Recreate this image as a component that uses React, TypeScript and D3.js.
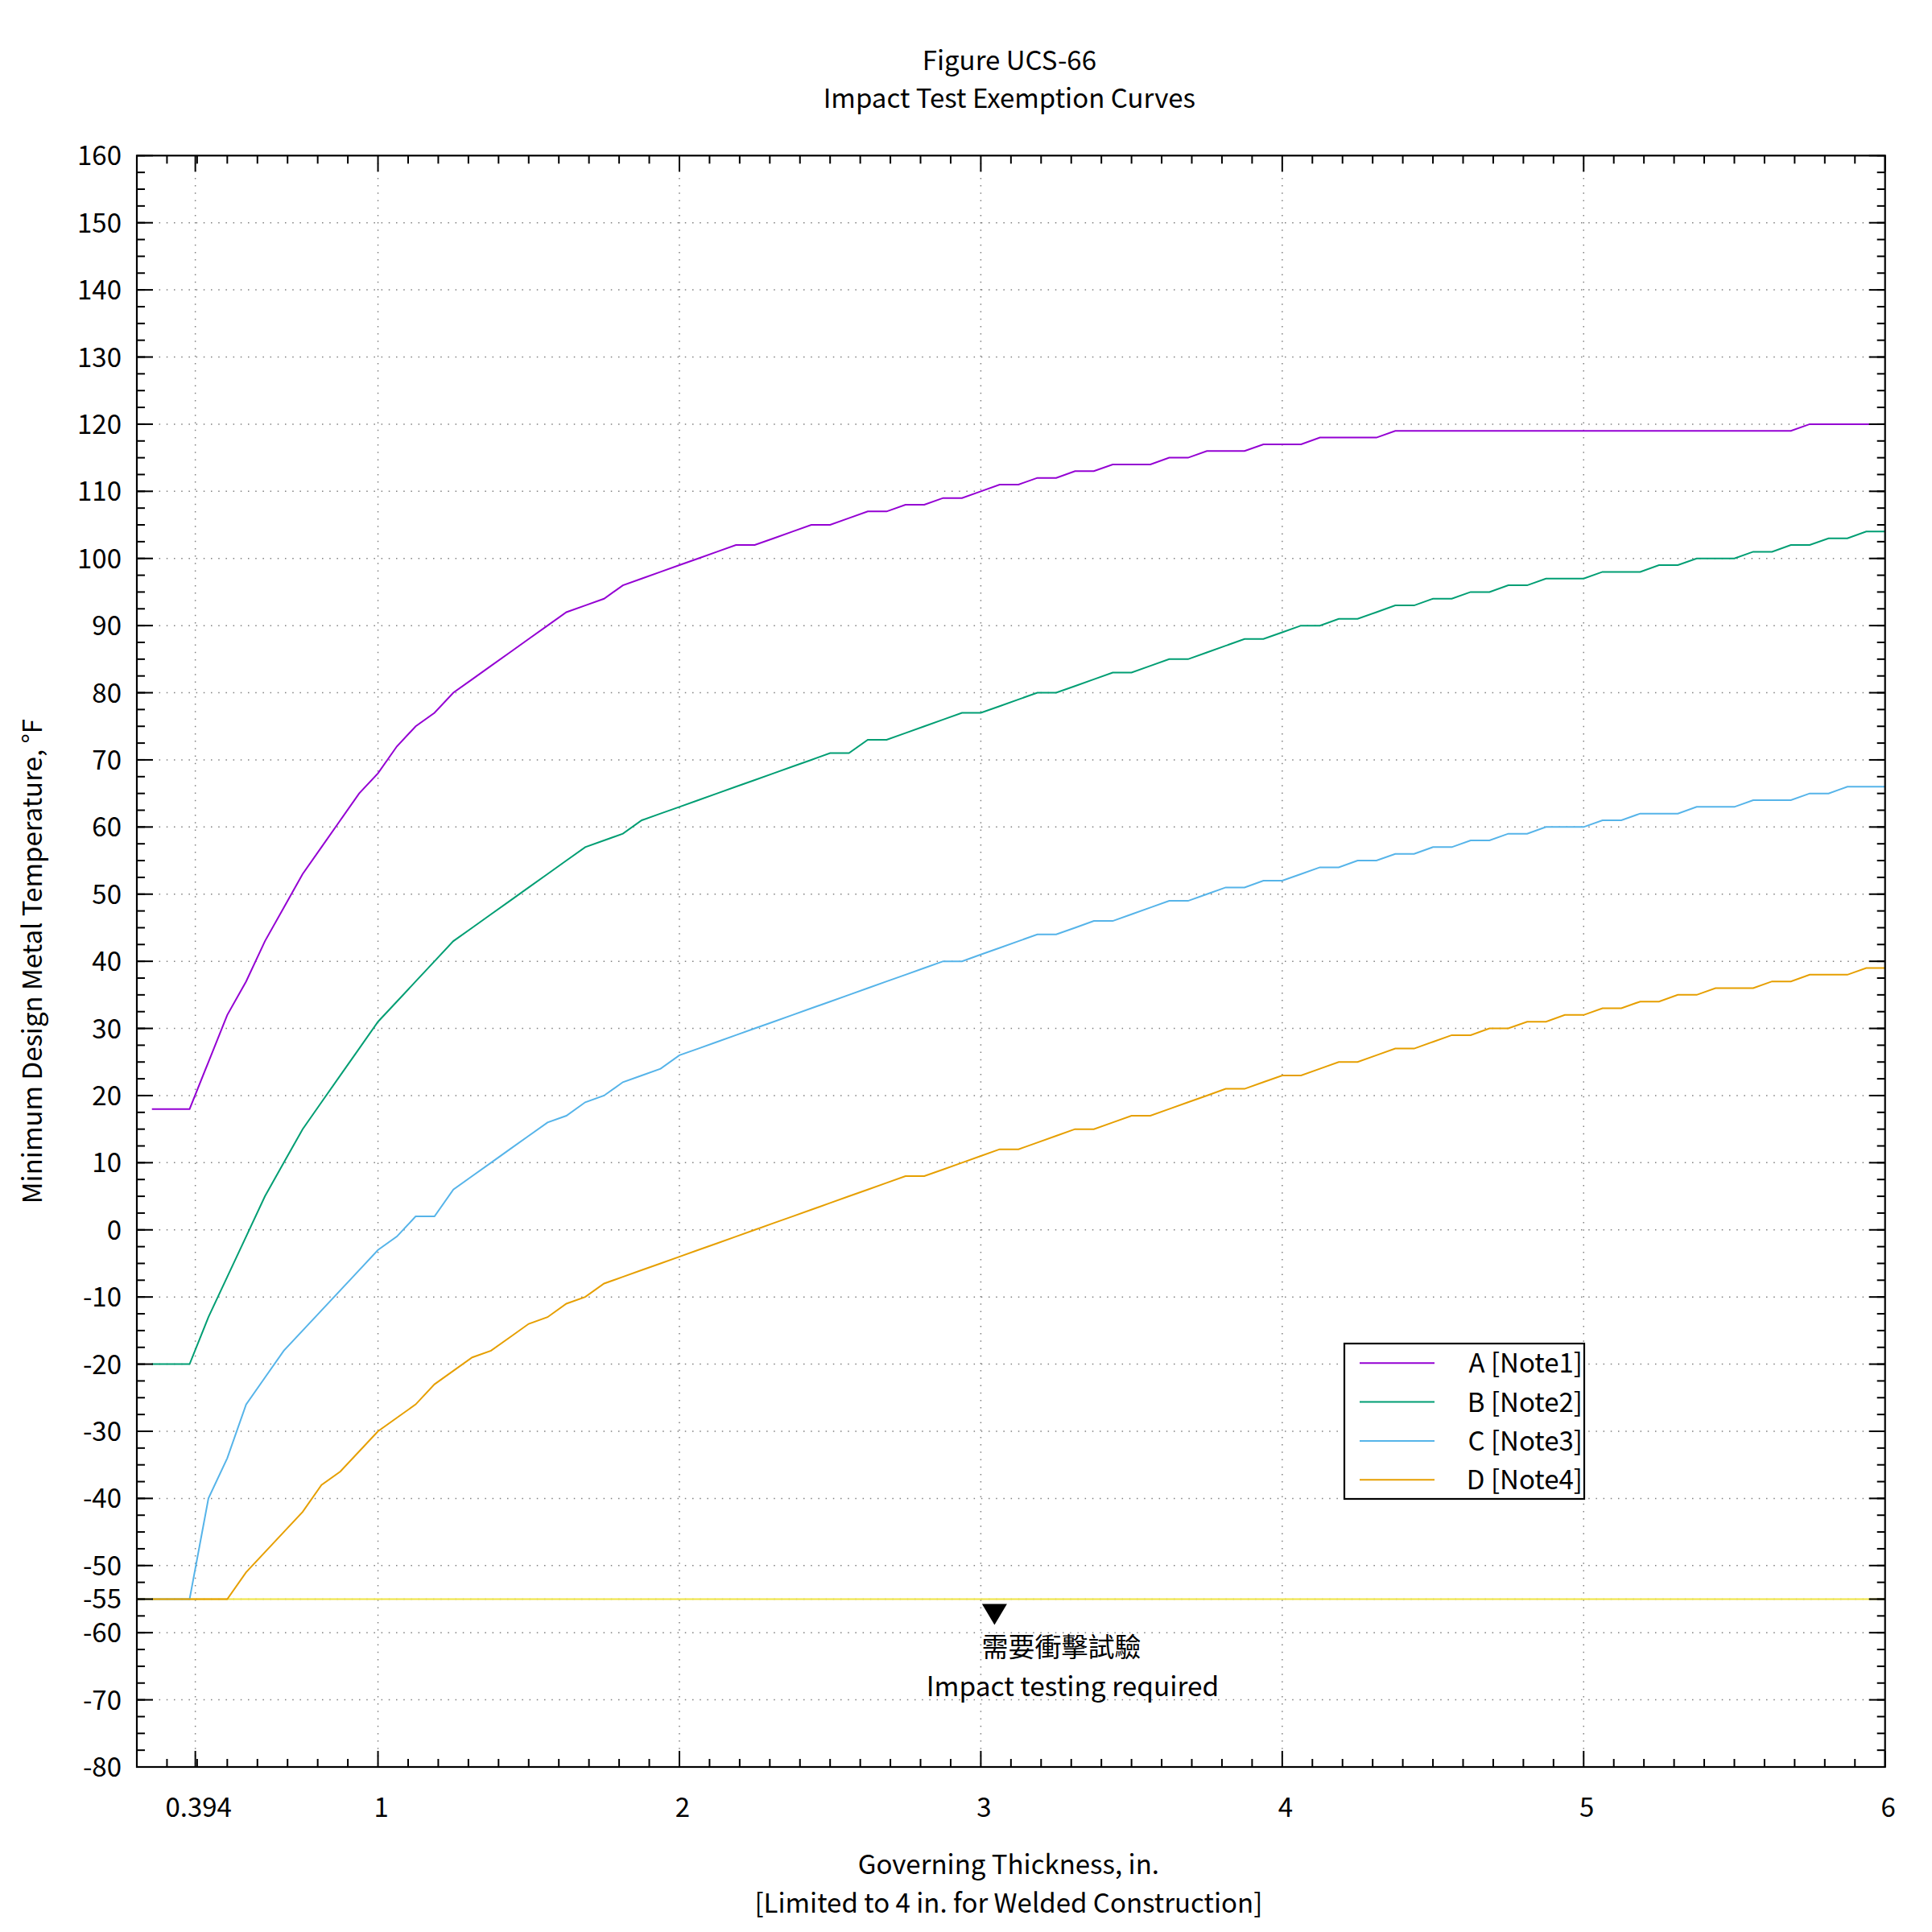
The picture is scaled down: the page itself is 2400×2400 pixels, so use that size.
import React from 'react';
import * as d3 from 'd3';

// Governing thickness, in.
const thickness = [
  0.25, 0.3125, 0.375, 0.4375, 0.5, 0.5625, 0.625, 0.6875, 0.75, 0.8125, 0.875, 0.9375,
  1, 1.0625, 1.125, 1.1875, 1.25, 1.3125, 1.375, 1.4375, 1.5, 1.5625, 1.625, 1.6875, 1.75, 1.8125, 1.875, 1.9375,
  2, 2.0625, 2.125, 2.1875, 2.25, 2.3125, 2.375, 2.4375, 2.5, 2.5625, 2.625, 2.6875, 2.75, 2.8125, 2.875, 2.9375,
  3, 3.0625, 3.125, 3.1875, 3.25, 3.3125, 3.375, 3.4375, 3.5, 3.5625, 3.625, 3.6875, 3.75, 3.8125, 3.875, 3.9375,
  4, 4.0625, 4.125, 4.1875, 4.25, 4.3125, 4.375, 4.4375, 4.5, 4.5625, 4.625, 4.6875, 4.75, 4.8125, 4.875, 4.9375,
  5, 5.0625, 5.125, 5.1875, 5.25, 5.3125, 5.375, 5.4375, 5.5, 5.5625, 5.625, 5.6875, 5.75, 5.8125, 5.875, 5.9375,
  6,
];

const curveA = [
  18, 18, 18, 25, 32, 37, 43, 48, 53, 57, 61, 65,
  68, 72, 75, 77, 80, 82, 84, 86, 88, 90, 92, 93, 94, 96, 97, 98,
  99, 100, 101, 102, 102, 103, 104, 105, 105, 106, 107, 107, 108, 108, 109, 109,
  110, 111, 111, 112, 112, 113, 113, 114, 114, 114, 115, 115, 116, 116, 116, 117,
  117, 117, 118, 118, 118, 118, 119, 119, 119, 119, 119, 119, 119, 119, 119, 119,
  119, 119, 119, 119, 119, 119, 119, 119, 119, 119, 119, 119, 120, 120, 120, 120,
  120,
];

const curveB = [
  -20, -20, -20, -13, -7, -1, 5, 10, 15, 19, 23, 27,
  31, 34, 37, 40, 43, 45, 47, 49, 51, 53, 55, 57, 58, 59, 61, 62,
  63, 64, 65, 66, 67, 68, 69, 70, 71, 71, 73, 73, 74, 75, 76, 77,
  77, 78, 79, 80, 80, 81, 82, 83, 83, 84, 85, 85, 86, 87, 88, 88,
  89, 90, 90, 91, 91, 92, 93, 93, 94, 94, 95, 95, 96, 96, 97, 97,
  97, 98, 98, 98, 99, 99, 100, 100, 100, 101, 101, 102, 102, 103, 103, 104,
  104,
];

const curveC = [
  -55, -55, -55, -40, -34, -26, -22, -18, -15, -12, -9, -6,
  -3, -1, 2, 2, 6, 8, 10, 12, 14, 16, 17, 19, 20, 22, 23, 24,
  26, 27, 28, 29, 30, 31, 32, 33, 34, 35, 36, 37, 38, 39, 40, 40,
  41, 42, 43, 44, 44, 45, 46, 46, 47, 48, 49, 49, 50, 51, 51, 52,
  52, 53, 54, 54, 55, 55, 56, 56, 57, 57, 58, 58, 59, 59, 60, 60,
  60, 61, 61, 62, 62, 62, 63, 63, 63, 64, 64, 64, 65, 65, 66, 66,
  66,
];

const curveD = [
  -55, -55, -55, -55, -55, -51, -48, -45, -42, -38, -36, -33,
  -30, -28, -26, -23, -21, -19, -18, -16, -14, -13, -11, -10, -8, -7, -6, -5,
  -4, -3, -2, -1, 0, 1, 2, 3, 4, 5, 6, 7, 8, 8, 9, 10,
  11, 12, 12, 13, 14, 15, 15, 16, 17, 17, 18, 19, 20, 21, 21, 22,
  23, 23, 24, 25, 25, 26, 27, 27, 28, 29, 29, 30, 30, 31, 31, 32,
  32, 33, 33, 34, 34, 35, 35, 36, 36, 36, 37, 37, 38, 38, 38, 39,
  39,
];

const seriesNames = ['A [Note1]', 'B [Note2]', 'C [Note3]', 'D [Note4]'];
const seriesValues = [curveA, curveB, curveC, curveD];
const seriesColors = ['#9400D3', '#009E73', '#56B4E9', '#E69F00'];

const limitTemp = -55;
const limitColor = '#F0E442';

const xDomain = [0.2, 6];
const yDomain = [-80, 160];
const xTickValues = [0.394, 1, 2, 3, 4, 5, 6];
const xTickLabels = ['0.394', '1', '2', '3', '4', '5', '6'];
const yTickValues = [160, 150, 140, 130, 120, 110, 100, 90, 80, 70, 60, 50, 40, 30, 20, 10, 0, -10, -20, -30, -40, -50, -55, -60, -70, -80];
const yTickLabels = yTickValues.map((v) => String(v));

const titleLines = ['Figure UCS-66', 'Impact Test Exemption Curves'];
const xLabelLines = ['Governing Thickness, in.', '[Limited to 4 in. for Welded Construction]'];
const yLabel = 'Minimum Design Metal Temperature, °F';
const noteCJK = '需要衝擊試驗';
const noteEN = 'Impact testing required';
const noteX = 3;

const FONT = "'Noto Sans CJK TC', 'Noto Sans', sans-serif";
const FS = 33;

export default function App() {
  const L = 170, R = 2341.7, T = 193.3, B = 2195;
  const x = d3.scaleLinear().domain(xDomain).range([L, R]);
  const y = d3.scaleLinear().domain(yDomain).range([B, T]);
  const cx = (L + R) / 2;
  const cy = (T + B) / 2;

  const line = d3
    .line<number>()
    .x((_, i) => x(thickness[i]))
    .y((d) => y(d));

  const xMinor = d3.range(3, 60).map((i) => i / 10).filter((v) => Math.abs(v - Math.round(v)) > 1e-9);
  const yMinor = d3.range(-80, 160.001, 2.5);
  const gridX = xTickValues.filter((v) => v > xDomain[0] && v < xDomain[1]);
  const gridY = yTickValues.filter((v) => v > yDomain[0] && v < yDomain[1]);

  const MAJ = 20, MIN = 10;
  const tickStroke = { stroke: '#000', strokeWidth: 2 };

  const legX0 = 1670, legY0 = 1669, legX1 = 1968, legY1 = 1862;
  const legRow0 = 1693.3, legStep = 48.3;

  return (
    <svg
      width={2400}
      height={2400}
      viewBox="0 0 2400 2400"
      style={{ position: 'absolute', left: 0, top: 0, background: '#fff' }}
      fontFamily={FONT}
    >
      <rect x={0} y={0} width={2400} height={2400} fill="#fff" />
      {/* grid */}
      <g stroke="#808080" strokeWidth={1.5} strokeDasharray="1.5 7.7">
        {gridX.map((v) => (
          <line key={'gx' + v} x1={x(v)} x2={x(v)} y1={T} y2={B} />
        ))}
        {gridY.map((v) => (
          <line key={'gy' + v} x1={L} x2={R} y1={y(v)} y2={y(v)} />
        ))}
      </g>

      {/* limit line */}
      <line x1={L} x2={R} y1={y(limitTemp)} y2={y(limitTemp)} stroke={limitColor} strokeWidth={2} />

      {/* series */}
      {seriesValues.map((vals, i) => (
        <path key={'s' + i} d={line(vals) || ''} fill="none" stroke={seriesColors[i]} strokeWidth={2} strokeLinejoin="miter" />
      ))}

      {/* frame */}
      <rect x={L} y={T} width={R - L} height={B - T} fill="none" stroke="#000" strokeWidth={2.2} />

      {/* ticks */}
      <g {...tickStroke}>
        {xTickValues.map((v) => (
          <g key={'xt' + v}>
            <line x1={x(v)} x2={x(v)} y1={B} y2={B - MAJ} />
            <line x1={x(v)} x2={x(v)} y1={T} y2={T + MAJ} />
          </g>
        ))}
        {xMinor.map((v) => (
          <g key={'xm' + v}>
            <line x1={x(v)} x2={x(v)} y1={B} y2={B - MIN} />
            <line x1={x(v)} x2={x(v)} y1={T} y2={T + MIN} />
          </g>
        ))}
        {yTickValues.map((v) => (
          <g key={'yt' + v}>
            <line x1={L} x2={L + MAJ} y1={y(v)} y2={y(v)} />
            <line x1={R} x2={R - MAJ} y1={y(v)} y2={y(v)} />
          </g>
        ))}
        {yMinor.map((v) => (
          <g key={'ym' + v}>
            <line x1={L} x2={L + MIN} y1={y(v)} y2={y(v)} />
            <line x1={R} x2={R - MIN} y1={y(v)} y2={y(v)} />
          </g>
        ))}
      </g>

      {/* tick labels */}
      <g fontSize={FS} fill="#000">
        {xTickValues.map((v, i) => (
          <text key={'xl' + v} x={x(v) + 4} y={2257} textAnchor="middle">
            {xTickLabels[i]}
          </text>
        ))}
        {yTickValues.map((v, i) => (
          <text key={'yl' + v} x={151} y={y(v) + 12} textAnchor="end">
            {yTickLabels[i]}
          </text>
        ))}
      </g>

      {/* legend */}
      <rect x={legX0} y={legY0} width={legX1 - legX0} height={legY1 - legY0} fill="#fff" stroke="#000" strokeWidth={2.2} />
      {seriesNames.map((name, i) => (
        <g key={'lg' + i}>
          <line x1={1689} x2={1782} y1={legRow0 + i * legStep} y2={legRow0 + i * legStep} stroke={seriesColors[i]} strokeWidth={2} />
          <text x={1966} y={legRow0 + i * legStep + 12} textAnchor="end" fontSize={FS}>
            {name}
          </text>
        </g>
      ))}

      {/* annotation */}
      <path
        d={`M${x(noteX) + 1.5},${y(limitTemp) + 6} L${x(noteX) + 32.5},${y(limitTemp) + 6} L${x(noteX) + 17},${y(limitTemp) + 32} Z`}
        fill="#000"
      />
      <text x={x(noteX) + 1} y={2058} fontSize={FS} textAnchor="start">
        {noteCJK}
      </text>
      <text x={1332.5} y={2107} fontSize={FS + 0.4} textAnchor="middle">
        {noteEN}
      </text>

      {/* title */}
      {titleLines.map((t, i) => (
        <text key={'t' + i} x={cx - 2} y={87 + i * 46.7} textAnchor="middle" fontSize={FS}>
          {t}
        </text>
      ))}

      {/* x label */}
      {xLabelLines.map((t, i) => (
        <text key={'xlab' + i} x={cx - 3} y={2328 + i * 47.5} textAnchor="middle" fontSize={FS}>
          {t}
        </text>
      ))}

      {/* y label */}
      <text transform={`translate(52,${cy}) rotate(-90)`} textAnchor="middle" fontSize={FS}>
        {yLabel}
      </text>
    </svg>
  );
}
